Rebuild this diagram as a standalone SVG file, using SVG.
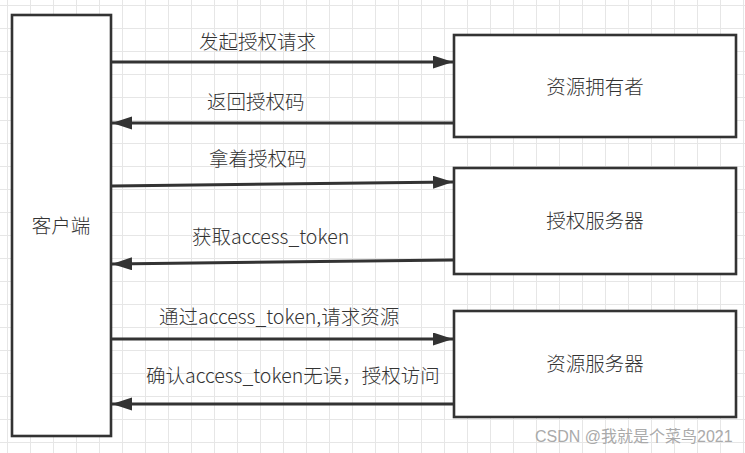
<svg xmlns="http://www.w3.org/2000/svg" width="745" height="453" viewBox="0 0 745 453">
<defs>
<pattern id="grid" patternUnits="userSpaceOnUse" x="7" y="5" width="23" height="23">
<path d="M0.5,0 V23 M0,0.5 H23" fill="none" stroke="#e6e6e6" stroke-width="1"/>
</pattern>
<marker id="arr" markerUnits="userSpaceOnUse" markerWidth="20" markerHeight="14" refX="20" refY="6.5" orient="auto">
<path d="M0,0 L20,6.5 L0,13 z" fill="#333"/>
</marker>
<style>
.box{fill:#fff;stroke:#333;stroke-width:2.6}
.lbl{font-family:"Noto Sans CJK SC","Microsoft YaHei",sans-serif;font-size:19.5px;font-weight:300;fill:#333}
.ctr{text-anchor:middle}
.edge{fill:none;stroke:#333;stroke-width:3;marker-end:url(#arr)}
.wm{font-family:"Liberation Sans","Noto Sans CJK SC",sans-serif;font-size:16px;fill:#aaa}
</style>
</defs>
<rect x="0" y="0" width="745" height="453" fill="#fff"/>
<rect x="0" y="0" width="745" height="453" fill="url(#grid)"/>

<g id="client">
<rect class="box" x="12" y="15" width="99" height="421"/>
<text class="lbl ctr" x="61" y="233">客户端</text>
</g>
<g id="resource-owner">
<rect class="box" x="454" y="35" width="282" height="102"/>
<text class="lbl ctr" x="595" y="94">资源拥有者</text>
</g>
<g id="auth-server">
<rect class="box" x="454" y="168" width="282" height="106"/>
<text class="lbl ctr" x="595" y="228">授权服务器</text>
</g>
<g id="resource-server">
<rect class="box" x="454" y="311" width="282" height="106"/>
<text class="lbl ctr" x="595" y="371">资源服务器</text>
</g>

<g id="connectors">
<line class="edge" x1="112" y1="62" x2="453" y2="62"/>
<line class="edge" x1="453" y1="123" x2="112" y2="123"/>
<line class="edge" x1="112" y1="186" x2="453" y2="182"/>
<line class="edge" x1="453" y1="260" x2="112" y2="264"/>
<line class="edge" x1="112" y1="339" x2="453" y2="339"/>
<line class="edge" x1="453" y1="404" x2="112" y2="404"/>
<text class="lbl" x="199" y="49">发起授权请求</text>
<text class="lbl" x="207" y="109">返回授权码</text>
<text class="lbl" x="209" y="166">拿着授权码</text>
<text class="lbl" x="192" y="244">获取access_token</text>
<text class="lbl" x="159" y="324">通过access_token,请求资源</text>
<text class="lbl" x="146" y="383">确认access_token无误，授权访问</text>
</g>

<text class="wm" x="535" y="442">CSDN @我就是个菜鸟2021</text>
</svg>
